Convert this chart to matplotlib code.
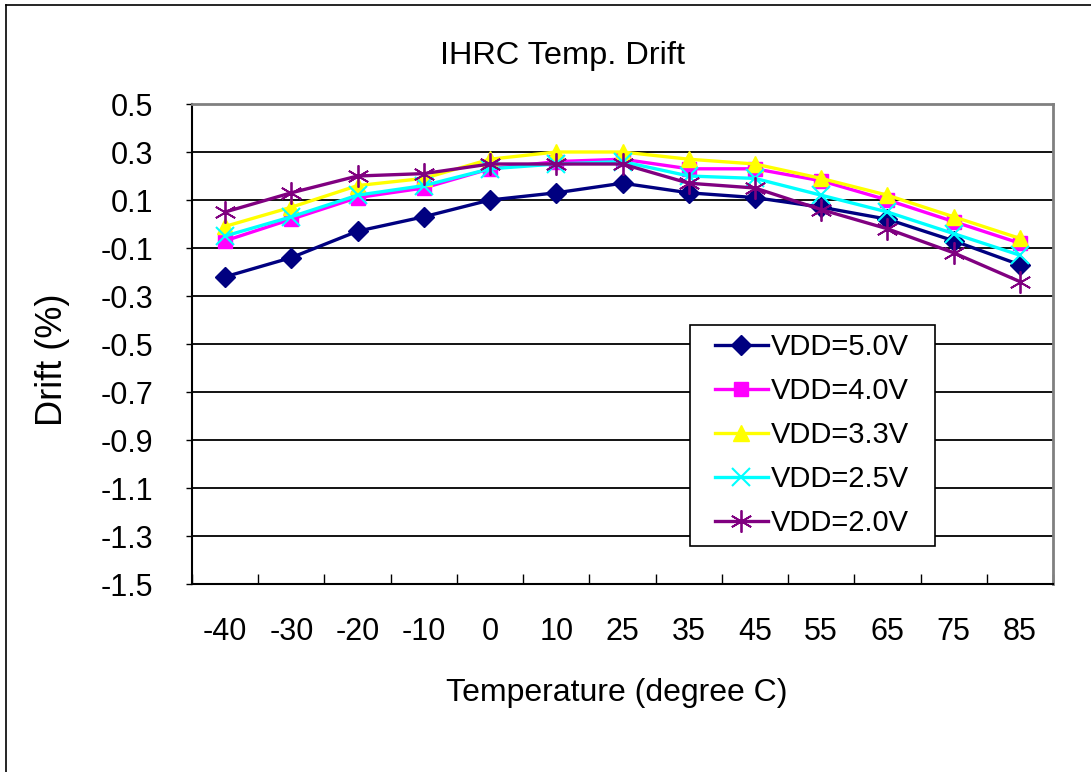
import numpy as np
import matplotlib
matplotlib.use("Agg")
import matplotlib.pyplot as plt
from matplotlib.lines import Line2D
from matplotlib.legend_handler import HandlerLine2D

plt.rcParams['font.family'] = ['Liberation Sans', 'DejaVu Sans']

# 温度点（类别轴）
temps = ['-40', '-30', '-20', '-10', '0', '10', '25', '35', '45', '55', '65', '75', '85']

# 各电压下的漂移 (%)
vdd_50 = [-0.22, -0.14, -0.03, 0.03, 0.10, 0.13, 0.17, 0.13, 0.11, 0.07, 0.02, -0.07, -0.17]
vdd_40 = [-0.07, 0.02, 0.11, 0.15, 0.23, 0.26, 0.27, 0.23, 0.23, 0.18, 0.10, 0.01, -0.08]
vdd_33 = [-0.01, 0.07, 0.16, 0.19, 0.27, 0.30, 0.30, 0.27, 0.25, 0.19, 0.12, 0.03, -0.06]
vdd_25 = [-0.05, 0.03, 0.12, 0.16, 0.23, 0.25, 0.26, 0.20, 0.19, 0.12, 0.05, -0.04, -0.13]
vdd_20 = [0.05, 0.13, 0.20, 0.21, 0.25, 0.25, 0.25, 0.17, 0.15, 0.06, -0.02, -0.12, -0.24]

series_labels = ['VDD=5.0V', 'VDD=4.0V', 'VDD=3.3V', 'VDD=2.5V', 'VDD=2.0V']

y_ticks = [0.5, 0.3, 0.1, -0.1, -0.3, -0.5, -0.7, -0.9, -1.1, -1.3, -1.5]

W, H = 1091, 772
fig = plt.figure(figsize=(W / 100, H / 100), dpi=100)

# 外框（只画上边和左边）
fig.add_artist(Line2D([6 / W, 1.0], [1 - 5 / H, 1 - 5 / H], color='black', lw=1.2))
fig.add_artist(Line2D([6 / W, 6 / W], [0, 1 - 5 / H], color='black', lw=1.2))

ax = fig.add_axes([192 / W, 1 - 584 / H, (1053 - 192) / W, (584 - 104) / H])

x = np.arange(len(temps))
styles = [
    dict(color='#000080', marker='D', ms=10, mfc='#000080', mec='#000080'),
    dict(color='#FF00FF', marker='s', ms=10, mfc='#FF00FF', mec='#FF00FF'),
    dict(color='#FFFF00', marker='^', ms=12, mfc='#FFFF00', mec='#FFFF00'),
    dict(color='#00FFFF', marker='x', ms=13, mec='#00FFFF', mew=1.5),
    dict(color='#800080', marker=(6, 2, 0), ms=16, mec='#800080', mew=1.3),
]
for vals, lab, st in zip([vdd_50, vdd_40, vdd_33, vdd_25, vdd_20], series_labels, styles):
    ax.plot(x, vals, lw=2.4, label=lab, **st)

ax.set_xlim(-0.5, len(temps) - 0.5)
ax.set_ylim(-1.5, 0.5)
ax.set_yticks(y_ticks)
ax.set_yticklabels(['%.1f' % v for v in y_ticks])
ax.set_xticks(x)
ax.set_xticklabels(temps)
ax.set_xticks(np.arange(len(temps) + 1) - 0.5, minor=True)

# 网格线
for v in y_ticks[1:-1]:
    ax.axhline(v, color='black', lw=1.3, zorder=0)

ax.tick_params(axis='x', which='major', length=0, pad=24, labelsize=22)
ax.tick_params(axis='x', which='minor', direction='in', length=7, width=1)
ax.tick_params(axis='y', which='major', direction='out', length=4, width=1, pad=24, labelsize=22)

for side in ['top', 'right']:
    ax.spines[side].set_color('#808080')
    ax.spines[side].set_linewidth(2)
for side in ['left', 'bottom']:
    ax.spines[side].set_color('black')
    ax.spines[side].set_linewidth(1.5)

fig.text(617 / W, 1 - 693 / H, 'Temperature (degree C)', fontsize=23, ha='center', va='center')
fig.text(53 / W, 1 - 360 / H, 'Drift (%)', fontsize=26, ha='center', va='center', rotation=90)
fig.text(562 / W, 1 - 56 / H, 'IHRC Temp. Drift', fontsize=23.4, ha='center', va='center')

bx0 = (690 - 192) / (1053 - 192)
bw = 245 / (1053 - 192)
bh = 216 / 480
btop = 1 - (325 - 104) / 480
leg = ax.legend(loc='upper left', bbox_to_anchor=(bx0, btop - bh, bw, bh), mode='expand',
                fontsize=21, frameon=True, fancybox=False, framealpha=1,
                edgecolor='black', handlelength=2.38, borderpad=0.29, labelspacing=0.545,
                handletextpad=0.1, borderaxespad=0,
                handler_map={Line2D: HandlerLine2D(xpad=0.565)})
leg.get_frame().set_linewidth(1.2)

fig.savefig('out.png', dpi=100)
